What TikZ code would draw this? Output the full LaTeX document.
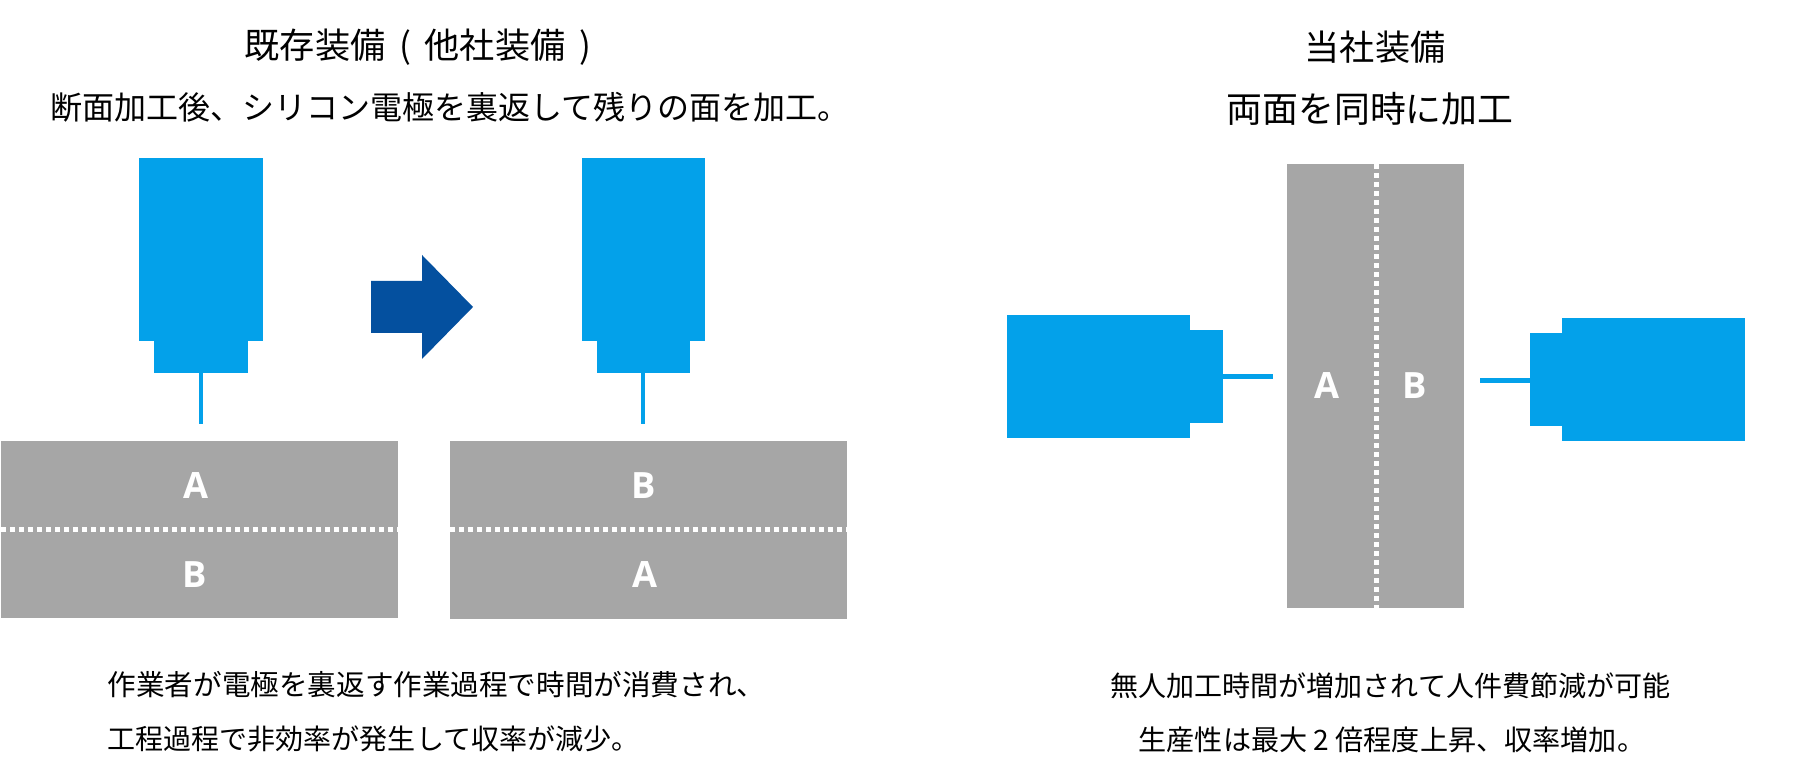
\documentclass[tikz,border=0pt]{standalone}
\usepackage{fontspec}
\usepackage{tikz}
\newfontfamily\jpfont{Noto Sans CJK JP}
\newfontfamily\labelfont{Open Sans}
\definecolor{toolblue}{HTML}{03A1EA}
\definecolor{arrowblue}{HTML}{04509F}
\definecolor{workgray}{HTML}{A6A6A6}
\tikzset{
  tool/.style={fill=toolblue},
  work/.style={fill=workgray},
  cutline/.style={white, line width=0.05cm, dash pattern=on 0.05cm off 0.04cm},
  face/.style={white, inner sep=0pt, font=\labelfont\bfseries\fontsize{10.3pt}{12pt}\selectfont},
  headtext/.style={inner sep=0pt, font=\jpfont\fontsize{#1}{12pt}\selectfont},
  headtext/.default=10pt,
  bodytext/.style={inner sep=0pt, font=\jpfont\fontsize{#1}{12pt}\selectfont},
  bodytext/.default=7.97pt,
}

\begin{document}
\begin{tikzpicture}[x=0.01cm, y=-0.01cm]
  \useasboundingbox (0,0) rectangle (1814,774);

  % 見出し
  \node[headtext, anchor=west] (oldtitle) at (244,47) {既存装備\hspace{3.9pt}(\hspace{3.9pt}他社装備\hspace{3.9pt})};
  \node[headtext=9.1pt, anchor=west] (oldsub) at (50,107) {断面加工後、シリコン電極を裏返して残りの面を加工。};
  \node[headtext] (newtitle) at (1375,47) {当社装備};
  \node[headtext=10.2pt] (newsub) at (1370,109) {両面を同時に加工};

  % 既存装備 工具
  \fill[tool] (139,158) rectangle (263,341);
  \fill[tool] (154,341) rectangle (248,373);
  \fill[tool] (199,373) rectangle (203,424);
  \fill[tool] (582,158) rectangle (705,341);
  \fill[tool] (597,341) rectangle (690,373);
  \fill[tool] (641,373) rectangle (645,424);

  % 矢印
  \fill[arrowblue] (371,281) -- (422,281) -- (422,255) -- (473,307)
    -- (422,359) -- (422,333) -- (371,333) -- cycle;

  % 既存装備 材料
  \fill[work] (1,441) rectangle (398,618);
  \fill[work] (450,441) rectangle (847,619);
  \draw[cutline] (1,530) -- (398,530);
  \draw[cutline] (450,530) -- (847,530);
  \node[face] (a1) at (196,486) {A};
  \node[face] (b1) at (195,575) {B};
  \node[face] (b2) at (644,486) {B};
  \node[face] (a2) at (645,575) {A};

  % 当社装備 材料
  \fill[work] (1287,164) rectangle (1464,608);
  \draw[cutline] (1376,164) -- (1376,608);
  \node[face] (a3) at (1327,386) {A};
  \node[face] (b3) at (1415,386) {B};

  % 当社装備 工具
  \fill[tool] (1007,315) rectangle (1190,438);
  \fill[tool] (1190,330) rectangle (1223,423);
  \fill[tool] (1223,374) rectangle (1273,379);
  \fill[tool] (1562,318) rectangle (1745,441);
  \fill[tool] (1530,333) rectangle (1562,426);
  \fill[tool] (1480,378) rectangle (1530,383);

  % 説明
  \node[bodytext=8.13pt, anchor=west] (oldline1) at (107,685) {作業者が電極を裏返す作業過程で時間が消費され、};
  \node[bodytext, anchor=west] (oldline2) at (107,739) {工程過程で非効率が発生して収率が減少。};
  \node[bodytext, anchor=west] (newline1) at (1110,686) {無人加工時間が増加されて人件費節減が可能};
  \node[bodytext=8pt, anchor=west] (newline2) at (1138,740) {生産性は最大 2 倍程度上昇、収率増加。};
\end{tikzpicture}
\end{document}
